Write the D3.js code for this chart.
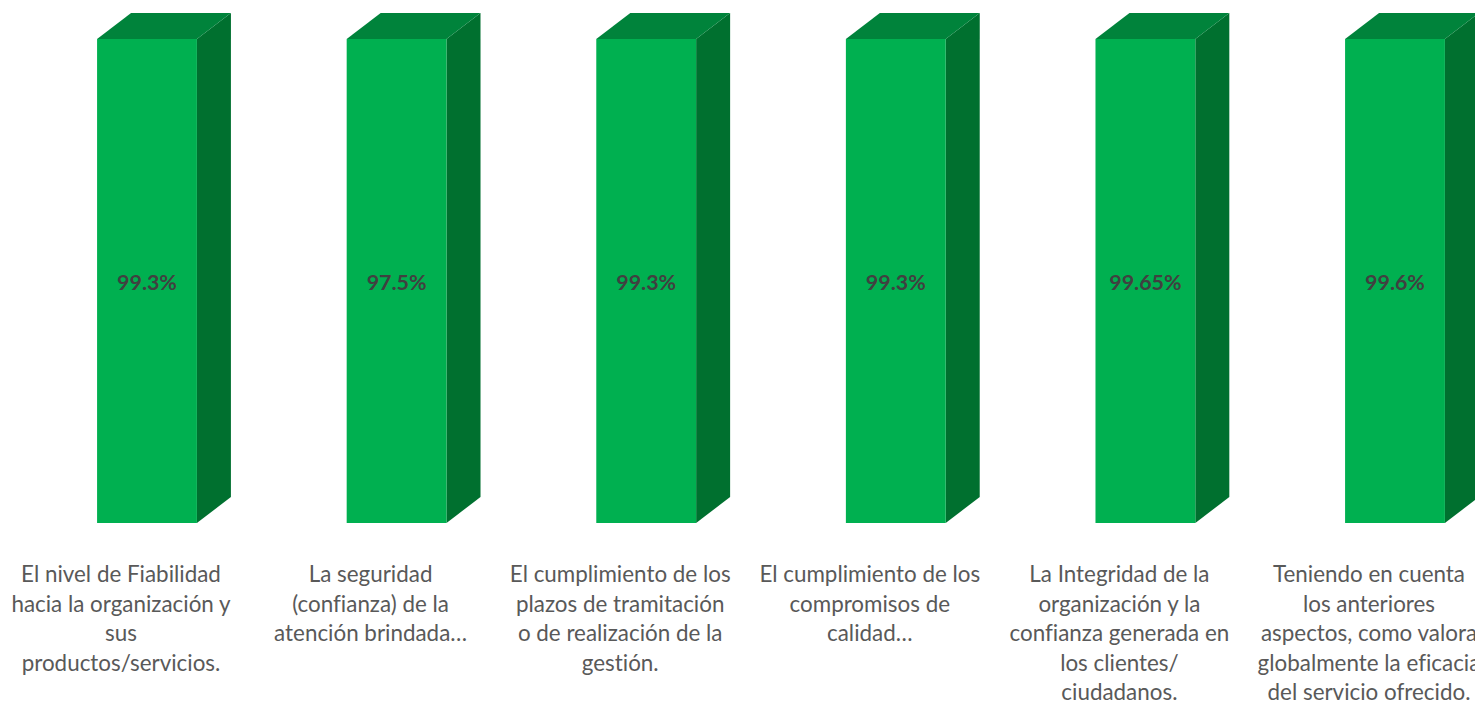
<!DOCTYPE html>
<html lang="es">
<head>
<meta charset="utf-8">
<title>Eficacia del servicio</title>
<script src="https://cdn.jsdelivr.net/npm/d3@7"></script>
<style>
  html, body { margin: 0; padding: 0; background: #fff; overflow: hidden; }
  text { font-family: Lato, "Open Sans", sans-serif; font-variant-ligatures: none; }
</style>
</head>
<body>
<div id="chart"></div>
<script>
const categories = ['fiabilidad', 'seguridad', 'plazos', 'compromisos', 'integridad', 'eficacia'];
const values = [99.3, 97.5, 99.3, 99.3, 99.65, 99.6];
const valueLabels = ['99.3%', '97.5%', '99.3%', '99.3%', '99.65%', '99.6%'];
const categoryLines = [
  ['El nivel de Fiabilidad', 'hacia la organización y', 'sus', 'productos/servicios.'],
  ['La seguridad', '(confianza) de la', 'atención brindada…'],
  ['El cumplimiento de los', 'plazos de tramitación', 'o de realización de la', 'gestión.'],
  ['El cumplimiento de los', 'compromisos de', 'calidad…'],
  ['La Integridad de la', 'organización y la', 'confianza generada en', 'los clientes/', 'ciudadanos.'],
  ['Teniendo en cuenta', 'los anteriores', 'aspectos, como valora', 'globalmente la eficacia', 'del servicio ofrecido.']
];

const width = 1475;
const height = 701;

// 3D-Tiefe der Balken
const depthX = 34;
const depthY = 26;

const FRONT = '#00b050';
const TOP = '#00833b';
const SIDE = '#00702f';

const svg = d3.select('#chart')
  .append('svg')
  .attr('width', width)
  .attr('height', height)
  .attr('viewBox', `0 0 ${width} ${height}`);

const x = d3.scaleBand()
  .domain(categories)
  .range([22.2, 1519.8])
  .paddingInner(0.6)
  .paddingOuter(0.3);

// Achse endet unter den Werten, alle Balken stossen oben an (wie im Original)
const y = d3.scaleLinear()
  .domain([0, 90])
  .range([523, 39])
  .clamp(true);

const bars = svg.append('g')
  .selectAll('g')
  .data(values)
  .join('g')
  .attr('transform', (d, i) => `translate(${x(categories[i])},0)`);

const w = x.bandwidth();

bars.append('path')
  .attr('fill', SIDE)
  .attr('d', d => `M${w},${y(d)}l${depthX},${-depthY}V${y(0) - depthY}l${-depthX},${depthY}Z`);

bars.append('path')
  .attr('fill', TOP)
  .attr('d', d => `M0,${y(d)}l${depthX},${-depthY}h${w}l${-depthX},${depthY}Z`);

bars.append('rect')
  .attr('fill', FRONT)
  .attr('width', w)
  .attr('y', d => y(d))
  .attr('height', d => y(0) - y(d));

bars.append('text')
  .attr('x', w / 2)
  .attr('y', d => (y(d) + y(0)) / 2 + 2)
  .attr('dy', '0.35em')
  .attr('text-anchor', 'middle')
  .attr('font-size', 21.4)
  .attr('font-weight', 700)
  .attr('fill', '#404040')
  .text((d, i) => valueLabels[i]);

// Kategorie-Texte, gegenueber der Balkenmitte nach links versetzt
const labelShift = -26;
const lineStep = 29.5;

svg.append('g')
  .selectAll('text')
  .data(categoryLines)
  .join('text')
  .attr('text-anchor', 'middle')
  .attr('font-size', 22.4)
  .attr('fill', '#595959')
  .each(function (lines, i) {
    const cx = x(categories[i]) + w / 2 + labelShift;
    d3.select(this).selectAll('tspan')
      .data(lines)
      .join('tspan')
      .attr('x', cx)
      .attr('y', (d, j) => 582 + j * lineStep)
      .text(d => d);
  });
</script>
</body>
</html>
